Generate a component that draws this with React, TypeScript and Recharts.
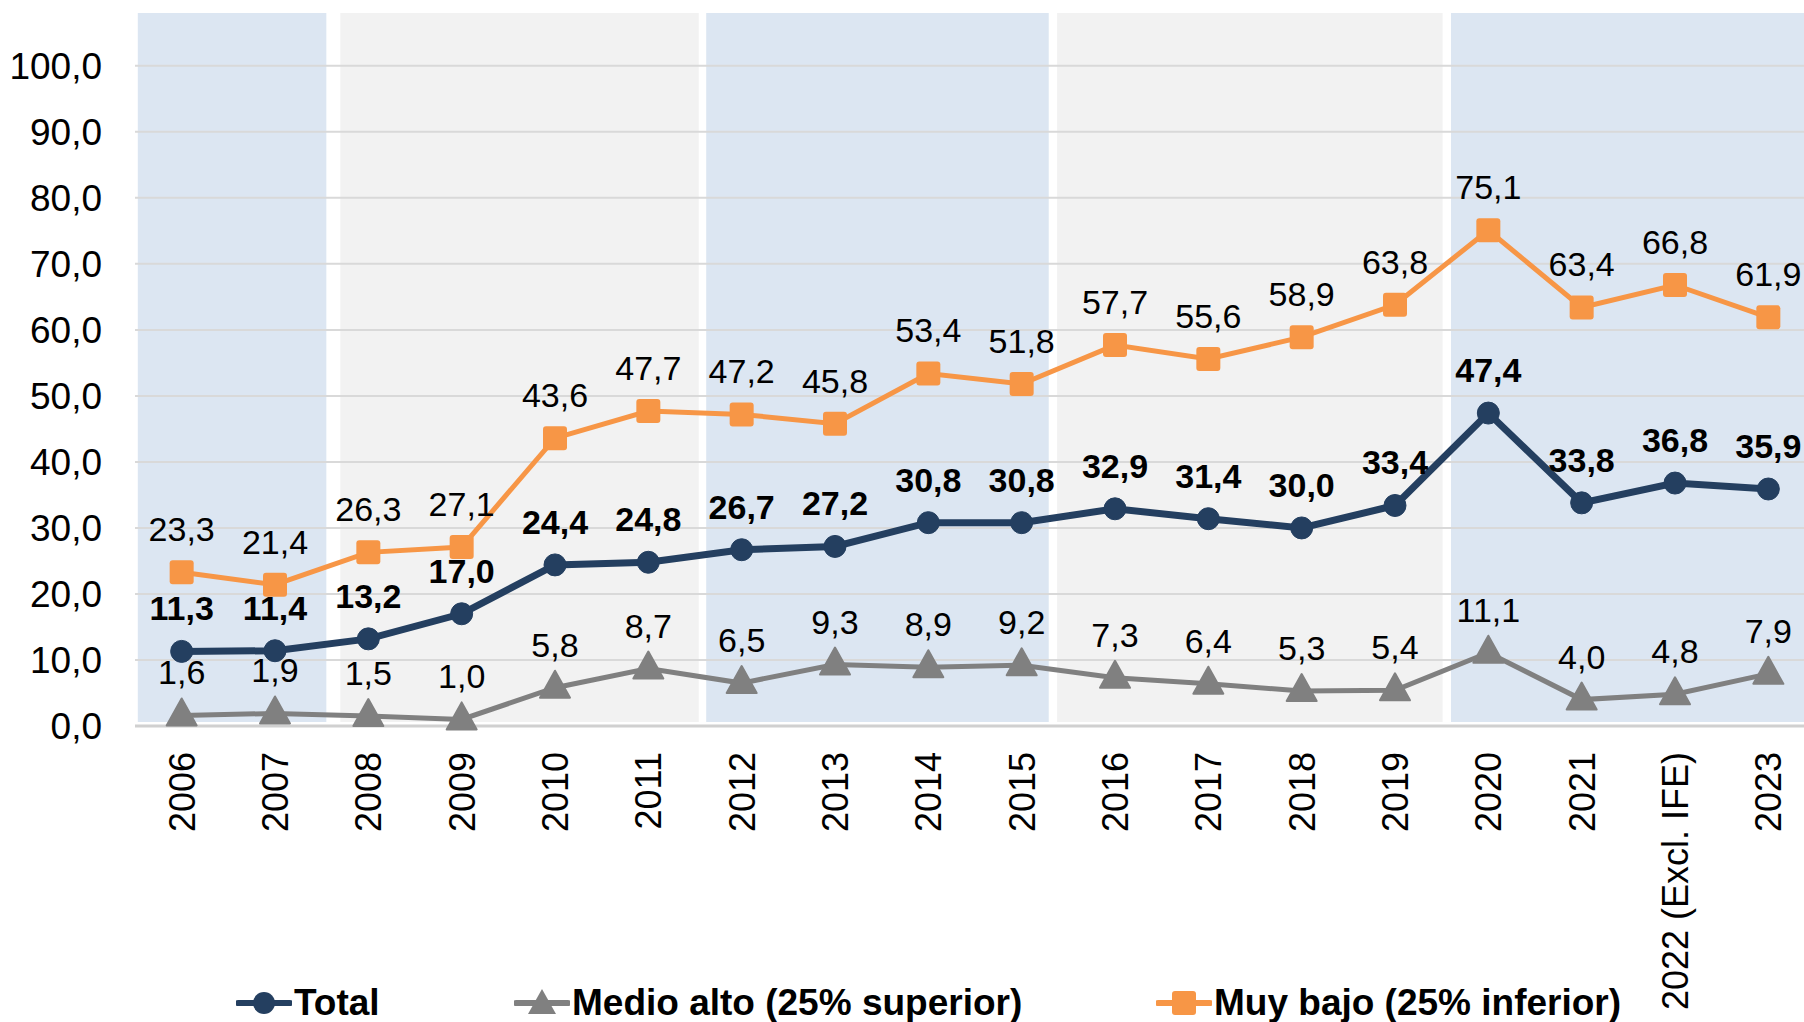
import { ComposedChart, Line, XAxis, YAxis, ReferenceArea, ReferenceLine, LabelList } from "recharts"

const years = [
  "2006", "2007", "2008", "2009", "2010", "2011", "2012", "2013", "2014",
  "2015", "2016", "2017", "2018", "2019", "2020", "2021", "2022 (Excl. IFE)", "2023",
]
const total = [11.3, 11.4, 13.2, 17.0, 24.4, 24.8, 26.7, 27.2, 30.8, 30.8, 32.9, 31.4, 30.0, 33.4, 47.4, 33.8, 36.8, 35.9]
const medioAlto = [1.6, 1.9, 1.5, 1.0, 5.8, 8.7, 6.5, 9.3, 8.9, 9.2, 7.3, 6.4, 5.3, 5.4, 11.1, 4.0, 4.8, 7.9]
const muyBajo = [23.3, 21.4, 26.3, 27.1, 43.6, 47.7, 47.2, 45.8, 53.4, 51.8, 57.7, 55.6, 58.9, 63.8, 75.1, 63.4, 66.8, 61.9]
const yTicks = [0, 10, 20, 30, 40, 50, 60, 70, 80, 90, 100]

// shaded periods behind the lines, extents in category units (0 = 2006)
const periodStart = [-0.47, 1.7, 5.62, 9.38, 13.6]
const periodEnd = [1.55, 5.54, 9.29, 13.51, 17.5]
const periodFill = ["#DCE6F2", "#F2F2F2", "#DCE6F2", "#F2F2F2", "#DCE6F2"]

const data = years.map((year, i) => ({
  idx: i,
  year,
  total: total[i],
  medioAlto: medioAlto[i],
  muyBajo: muyBajo[i],
}))

const NAVY = "#243F60"
const GREY = "#808080"
const ORANGE = "#F79646"
const FONT = "'Liberation Sans', Arial, sans-serif"

const fmt = (v: any) => Number(v).toFixed(1).replace(".", ",")

const YearTick = (props: any) => {
  const { x, y, payload } = props
  return (
    <text
      x={x}
      y={y + 18}
      dy="0.36em"
      textAnchor="end"
      transform={`rotate(-90, ${x}, ${y + 18})`}
      fontSize={36}
      fontFamily={FONT}
      fill="#000"
    >
      {payload.value}
    </text>
  )
}

const Triangle = (props: any) => {
  const { cx, cy, index } = props
  if (cx == null || cy == null) return <g key={index} />
  return (
    <polygon
      key={index}
      points={`${cx},${cy - 17} ${cx + 15},${cy + 10} ${cx - 15},${cy + 10}`}
      fill={GREY}
      stroke={GREY}
      strokeWidth={2}
      strokeLinejoin="round"
    />
  )
}

const Square = (props: any) => {
  const { cx, cy, index } = props
  if (cx == null || cy == null) return <g key={index} />
  return <rect key={index} x={cx - 12} y={cy - 12} width={24} height={24} rx={3} fill={ORANGE} />
}

const legendItems = [
  { name: "Total", color: NAVY, shape: "circle", left: 236 },
  { name: "Medio alto (25% superior)", color: GREY, shape: "triangle", left: 514 },
  { name: "Muy bajo (25% inferior)", color: ORANGE, shape: "square", left: 1156 },
]

function LegendIcon({ color, shape }: { color: string; shape: string }) {
  return (
    <svg width={56} height={30} style={{ display: "block" }}>
      <line x1={2} y1={15} x2={54} y2={15} stroke={color} strokeWidth={6} strokeLinecap="round" />
      {shape === "circle" && <circle cx={28} cy={15} r={11} fill={color} />}
      {shape === "triangle" && <polygon points="28,1 42,26 14,26" fill={color} />}
      {shape === "square" && <rect x={16} y={3} width={24} height={24} rx={3} fill={color} />}
    </svg>
  )
}

export default function App() {
  return (
    <div style={{ position: "absolute", left: 0, top: 0, width: 1804, height: 1022, overflow: "hidden", background: "#fff", fontFamily: FONT }}>
      <ComposedChart
        width={1830}
        height={1022}
        data={data}
        margin={{ top: 13, right: 15, left: 0, bottom: 0 }}
      >
        <XAxis
          dataKey="year"
          scale="band"
          interval={0}
          tick={<YearTick />}
          tickLine={false}
          axisLine={{ stroke: "#D0D0D0", strokeWidth: 3 }}
          height={296}
        />
        <XAxis
          xAxisId="bands"
          dataKey="idx"
          type="number"
          domain={[-0.5, 17.5]}
          allowDataOverflow
          hide
        />
        <YAxis
          domain={[0, 108]}
          ticks={yTicks}
          tickFormatter={fmt}
          axisLine={false}
          tickLine={false}
          tickSize={0}
          tickMargin={33}
          width={135}
          tick={{ fontSize: 37, fill: "#000", fontFamily: FONT }}
        />
        {periodStart.map((start, i) => (
          <ReferenceArea
            key={i}
            xAxisId="bands"
            x1={start}
            x2={periodEnd[i]}
            y1={0.6}
            y2={108}
            fill={periodFill[i]}
            fillOpacity={1}
            ifOverflow="hidden"
          />
        ))}
        {yTicks.map((t) => (
          <ReferenceLine key={t} y={t} stroke="#D9D9D9" strokeWidth={2} />
        ))}
        <Line
          dataKey="medioAlto"
          stroke={GREY}
          strokeWidth={5}
          dot={<Triangle />}
          activeDot={false}
          isAnimationActive={false}
        >
          <LabelList dataKey="medioAlto" position="top" offset={31} formatter={fmt} fontSize={34} fill="#000" fontFamily={FONT} />
        </Line>
        <Line
          dataKey="muyBajo"
          stroke={ORANGE}
          strokeWidth={5}
          dot={<Square />}
          activeDot={false}
          isAnimationActive={false}
        >
          <LabelList dataKey="muyBajo" position="top" offset={31} formatter={fmt} fontSize={34} fill="#000" fontFamily={FONT} />
        </Line>
        <Line
          dataKey="total"
          stroke={NAVY}
          strokeWidth={7}
          dot={{ r: 11, fill: NAVY, stroke: NAVY, strokeWidth: 1 }}
          activeDot={false}
          isAnimationActive={false}
        >
          <LabelList dataKey="total" position="top" offset={31} formatter={fmt} fontSize={34} fontWeight="bold" fill="#000" fontFamily={FONT} />
        </Line>
      </ComposedChart>
      {legendItems.map((item) => (
        <div
          key={item.name}
          style={{ position: "absolute", left: item.left, top: 985, display: "flex", alignItems: "center", whiteSpace: "nowrap" }}
        >
          <LegendIcon color={item.color} shape={item.shape} />
          <span style={{ fontSize: 37, fontWeight: "bold", color: "#000", lineHeight: "36px", marginLeft: 2 }}>{item.name}</span>
        </div>
      ))}
    </div>
  )
}
